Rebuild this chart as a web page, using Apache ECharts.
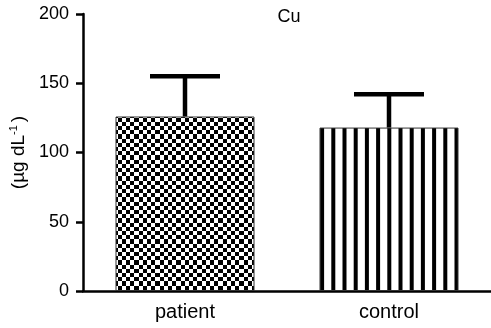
<!DOCTYPE html>
<html><head><meta charset="utf-8">
<script src="https://cdn.jsdelivr.net/npm/echarts@6/dist/echarts.min.js"></script>
<style>html,body{margin:0;padding:0;background:#fff}#c{width:491px;height:328px}</style>
</head><body><div id="c"></div>
<script>
var categories = ['patient', 'control'];
var means = [126, 118];
var errTops = [155, 142];
var yTicks = [0, 50, 100, 150, 200];

function checker() {
  var c = document.createElement('canvas'); c.width = 42; c.height = 42;
  var g = c.getContext('2d'); g.fillStyle = '#fff'; g.fillRect(0, 0, 42, 42);
  g.fillStyle = '#000';
  for (var i = 0; i < 10; i++) for (var j = 0; j < 10; j++) {
    if ((i + j) % 2 === 0) {
      var x0 = Math.round(i * 4.2), x1 = Math.round((i + 1) * 4.2);
      var y0 = Math.round(j * 4.2), y1 = Math.round((j + 1) * 4.2);
      g.fillRect(x0, y0, x1 - x0, y1 - y0);
    }
  }
  return c;
}
function stripes() {
  var c = document.createElement('canvas'); c.width = 56; c.height = 8;
  var g = c.getContext('2d'); g.fillStyle = '#fff'; g.fillRect(0, 0, 56, 8);
  g.fillStyle = '#000';
  for (var i = 0; i < 5; i++) g.fillRect(8.5 + i * 11.2 - 2, 0, 4, 8);
  return c;
}

var chart = echarts.init(document.getElementById('c'), null, {renderer: 'canvas'});
var fontFam = '"Liberation Sans", Arial, sans-serif';
chart.setOption({
  animation: false,
  title: {text: 'Cu', left: 284, top: 3, textAlign: 'center',
    textStyle: {fontFamily: fontFam, fontSize: 18, fontWeight: 'normal', color: '#000'}},
  grid: {left: 83, top: 14, width: 417, height: 277},
  xAxis: {type: 'category', data: categories,
    axisLine: {lineStyle: {color: '#000', width: 2.5}},
    axisTick: {alignWithLabel: true, length: 6, lineStyle: {color: '#000', width: 2.5}},
    axisLabel: {color: '#000', fontSize: 20, fontFamily: fontFam, margin: 11}},
  yAxis: {type: 'value', min: yTicks[0], max: yTicks[yTicks.length - 1], interval: 50,
    name: '(µg dL{sup|-1})', nameLocation: 'middle', nameGap: 54,
    nameTextStyle: {color: '#000', fontSize: 19, fontFamily: fontFam,
      rich: {sup: {fontSize: 11, fontFamily: fontFam, color: '#000', padding: [0, 3, 10, 0]}}},
    splitLine: {show: false},
    axisLine: {show: true, lineStyle: {color: '#000', width: 2.5}},
    axisTick: {show: true, length: 7, lineStyle: {color: '#000', width: 2.5}},
    axisLabel: {color: '#000', fontSize: 18, fontFamily: fontFam, margin: 14}},
  series: [
    {type: 'bar', barWidth: 139,
      data: [
        {value: means[0], itemStyle: {color: {image: checker(), repeat: 'repeat'}, borderColor: '#333', borderWidth: 1}},
        {value: means[1], itemStyle: {color: {image: stripes(), repeat: 'repeat'}, borderColor: '#333', borderWidth: 1}}
      ]},
    {type: 'custom', z: 5,
      data: categories.map(function (c, i) { return [i, means[i], errTops[i]]; }),
      renderItem: function (params, api) {
        var base = api.coord([api.value(0), api.value(1)]);
        var top = api.coord([api.value(0), api.value(2)]);
        var hw = 35;
        return {type: 'group', children: [
          {type: 'line', shape: {x1: base[0], y1: base[1], x2: top[0], y2: top[1]},
            style: {stroke: '#000', lineWidth: 4.5}},
          {type: 'line', shape: {x1: top[0] - hw, y1: top[1], x2: top[0] + hw, y2: top[1]},
            style: {stroke: '#000', lineWidth: 4.5}}
        ]};
      }}
  ]
});
</script></body></html>
